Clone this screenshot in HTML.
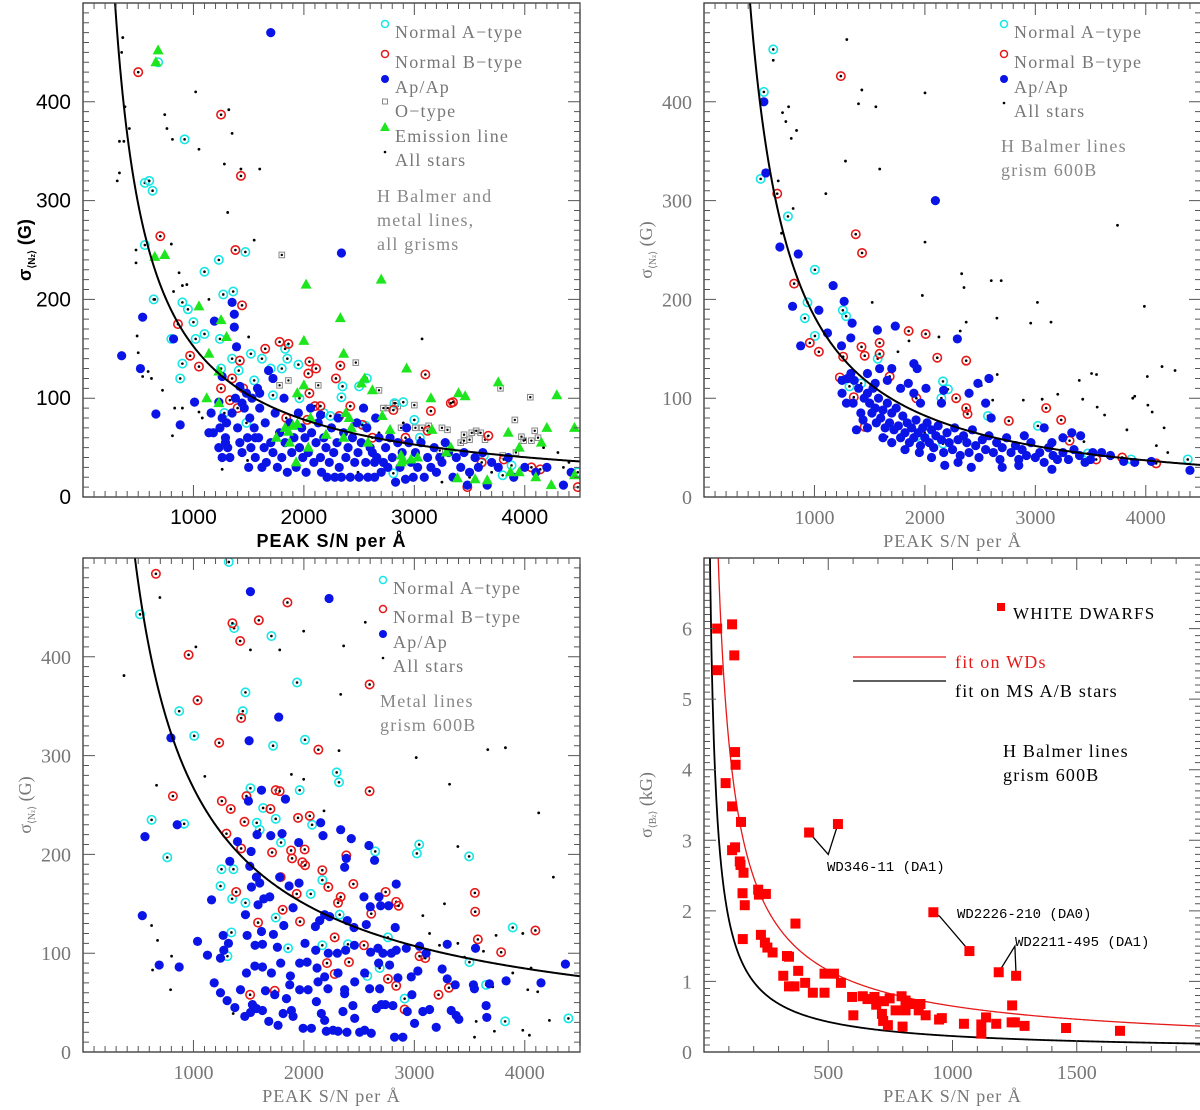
<!DOCTYPE html>
<html><head><meta charset="utf-8">
<style>
html,body{margin:0;padding:0;background:#fff;}
svg{display:block;font-family:"Liberation Serif","DejaVu Serif",serif;}
</style></head>
<body>
<svg id="fig" width="1200" height="1110" viewBox="0 0 1200 1110" xmlns="http://www.w3.org/2000/svg"></svg>
<script>
// ---------- Top-left panel data (S/N, sigma G) ----------
const tlCyan=[[680,440],[560,318],[600,320],[630,310],[560,255],[640,200],[920,362],[1100,228],[1230,240],[1470,248],[900,197],[950,190],[1000,177],[1020,160],[1100,165],[1240,160],[1270,205],[1360,208],[800,160],[900,135],[880,120],[1250,130],[1350,140],[1410,128],[1520,145],[1550,118],[1620,140],[1700,130],[1800,130],[1830,150],[1850,140],[1950,134],[1720,103],[1960,100],[2350,112],[2340,101],[2500,112],[2570,120],[2560,72],[1480,75],[2820,95],[2900,96],[3000,78],[2180,85],[2240,82],[3630,42],[3880,32],[3800,22],[2810,24],[4480,25],[3050,60],[1280,85]];
const tlRed=[[500,430],[1250,387],[1430,325],[1380,250],[700,264],[1440,194],[860,175],[970,143],[1050,132],[1420,138],[1650,150],[1780,157],[1860,155],[2050,137],[2040,125],[2110,130],[2330,133],[2290,120],[1250,110],[1350,120],[1330,98],[1400,90],[1450,110],[2050,105],[2100,92],[2150,92],[2420,92],[2320,82],[2530,73],[2620,60],[2810,88],[2920,60],[3100,124],[3330,95],[3350,96],[3150,87],[3120,67],[3670,62],[3480,10],[3610,35],[3810,38],[4060,30],[4140,28],[4480,10],[1840,80],[2030,78]];
const tlBlue=[[1700,470],[2340,247],[350,143],[540,182],[520,130],[660,84],[880,73],[820,160],[1010,96],[1190,178],[1350,197],[1370,185],[1370,172],[1390,152],[1260,122],[1160,85],[1140,65],
[1230,96],[1260,80],[1290,60],[1310,50],[1330,40],[1300,75],[1350,85],[1380,100],[1400,70],[1420,55],[1440,45],[1460,90],[1480,105],[1490,60],[1500,30],[1510,80],[1520,50],[1420,112],[1440,95],[1290,55],[1230,50],[1240,70],[1180,65],[1260,40],
[1530,100],[1550,70],[1560,40],[1580,110],[1590,60],[1600,90],[1620,30],[1640,50],[1650,75],[1660,35],[1680,128],[1700,55],[1720,45],[1740,85],[1760,30],[1780,65],[1800,40],[1820,100],[1830,55],[1850,25],[1870,75],[1890,45],[1910,60],[1930,30],[1950,85],[1960,50],[1980,70],[1990,40],[1720,120],[1600,105],[1560,60],
[2010,60],[2020,25],[2040,45],[2060,90],[2070,65],[2090,35],[2110,55],[2130,75],[2150,40],[2160,25],[2180,60],[2200,50],[2210,20],[2230,35],[2250,70],[2270,45],[2280,20],[2300,55],[2320,30],[2340,20],[2360,65],[2380,40],[2400,50],[2420,20],[2440,60],[2460,35],[2480,75],[2490,45],[2310,80],[2150,83],
[2500,20],[2520,55],[2540,90],[2560,35],[2570,70],[2580,20],[2600,50],[2620,45],[2640,20],[2650,80],[2660,40],[2680,60],[2700,25],[2720,35],[2740,50],[2760,30],[2780,60],[2800,40],[2830,15],[2850,55],[2870,30],[2890,45],[2920,18],[2950,55],[2970,35],[2990,20],[2640,35],[2930,70],
[3010,45],[3030,30],[3060,55],[3090,20],[3120,40],[3150,30],[3180,50],[3200,25],[3230,40],[3250,35],[3280,55],[3310,45],[3350,20],[3380,40],[3420,30],[3450,45],[3480,12],[3500,25],
[3550,40],[3580,30],[3620,45],[3660,12],[3700,35],[3760,30],[3850,40],[3900,20],[4000,30],[4100,25],[4200,30],[4350,12],[4420,25]];
const tlOtype=[[1800,245],[1780,113],[1860,118],[2130,113],[2470,136],[2680,108],[2720,90],[2760,90],[2850,92],[2880,70],[3070,70],[3000,93],[3130,72],[3250,70],[3300,68],[3420,55],[3450,63],[3520,65],[3560,67],[3600,65],[3640,58],[3780,110],[3910,78],[3970,61],[3990,57],[4060,57],[4120,60],[4090,67],[4050,101],[3920,45],[3450,57],[3230,47],[2830,95],[3010,70],[3500,58],[3800,42]];
const tlEmission=[[660,440],[680,452],[650,243],[740,245],[1050,193],[1250,179],[1300,162],[1140,145],[1230,127],[1120,100],[1230,95],[2020,215],[2700,220],[2330,181],[2000,158],[2360,145],[2550,120],[2620,108],[2930,130],[1940,105],[2000,113],[1750,60],[1830,70],[1860,66],[1900,72],[1940,74],[1870,55],[2040,50],[2060,80],[2200,63],[2360,60],[2380,85],[2410,80],[2430,70],[2520,115],[2580,55],[2710,82],[2780,68],[2880,42],[2900,37],[2970,38],[3030,40],[3150,100],[3160,68],[3290,45],[3330,50],[3400,105],[3460,102],[3390,19],[3550,18],[3660,17],[3760,116],[3850,65],[3870,25],[3950,50],[3950,25],[4100,20],[4200,70],[4150,55],[4290,103],[4240,12],[4450,70],[4450,22],[1930,35],[2880,35]];
const tlAll=[[330,360],[330,328],[350,450],[360,465],[370,360],[380,395],[420,373],[310,320],[480,237],[480,250],[490,163],[500,146],[540,122],[590,127],[620,120],[650,200],[720,108],[740,387],[760,373],[800,256],[810,362],[820,208],[830,90],[870,227],[900,214],[940,215],[1020,410],[1050,352],[1280,337],[1320,392],[1350,368],[1310,288],[1430,332],[1550,260],[1600,332],[1500,162],[1140,200],[3070,160],[2680,65],[2900,75],[4000,58],[4170,50],[4300,45],[4350,30],[4400,35],[3700,25],[3500,20],[3250,15],[2960,18],[2490,25],[1490,37],[1260,28],[810,62],[1080,80],[1050,86],[900,90]];
const tlFit=[115600,0.96];

// ---------- Top-right panel data ----------
const trCyan=[[627,453],[542,410],[513,322],[760,284],[1004,230],[937,197],[913,181],[1004,163],[1257,189],[1287,183],[1317,112],[1423,115],[1573,140],[2164,117],[2209,109],[2164,54],[1923,61],[1998,65],[2571,82],[3023,72],[3475,44],[3867,38],[4380,38],[2149,100]];
const trRed=[[1239,426],[663,307],[1374,266],[1431,247],[816,216],[958,156],[1040,147],[1260,142],[1426,152],[1590,156],[1590,145],[1853,168],[2007,165],[1455,143],[2112,141],[2374,138],[1230,121],[1356,101],[1455,71],[1681,122],[2374,90],[2386,84],[2760,77],[3098,90],[3234,78],[3310,57],[3551,38],[3786,40],[4094,34],[2283,100],[1923,100]];
const trBlue=[[542,400],[560,328],[687,253],[853,246],[1169,214],[802,193],[1040,189],[1269,198],[1341,176],[1118,166],[875,153],[1245,153],[1329,161],[1570,169],[1732,173],[2095,300],[2294,160],
[1250,118],[1300,120],[1330,125],[1360,118],[1400,110],[1450,100],[1480,105],[1500,95],[1520,85],[1530,110],[1550,90],[1560,75],[1580,100],[1600,80],[1620,88],[1640,70],[1660,95],[1680,75],[1700,85],[1720,68],[1740,90],[1760,72],[1780,60],[1800,82],[1820,65],[1840,75],[1860,55],[1880,70],[1900,60],[1920,78],[1940,65],[1960,52],[1980,70],[2000,60],[2020,75],[2040,55],[2060,68],[2080,50],[2100,62],[2120,72],[2150,58],[2170,45],[2200,65],[2220,55],[2250,48],[2270,70],[2300,58],[2320,42],[2350,62],[2380,55],[2400,45],[2430,68],[2460,52],[2490,40],[2520,58],[2550,48],[2580,62],[2620,45],[2650,55],[2680,38],[2700,50],[2740,60],[2780,45],[2820,52],[2850,38],[2880,48],[2920,42],[2960,55],[3000,40],[3040,45],[3080,35],[3120,50],[3160,42],[3200,38],[3250,45],[3300,38],[3350,48],[3400,42],[3450,35],[3500,38],[3600,45],[3680,42],[3800,36],[3900,35],[4050,36],[4400,27],
[1350,95],[1420,85],[1480,125],[1590,130],[1660,118],[1700,130],[1780,110],[1850,115],[1900,105],[1960,95],[2010,110],[2150,95],[2400,105],[2480,115],[2550,95],[2600,80],[1550,115],[1620,60],[1700,55],[1820,48],[1950,45],[2060,40],[2180,32],[2300,35],[2420,30],[2700,30],[2850,32],[3150,28],[1440,78],[1480,70],[1380,68],[1290,95],[1250,105],[1900,135],[1930,130],[2170,108],[2580,120],[3410,62],[3330,65],[3250,60],[3150,55],[3080,70],[2900,62],[3520,45]];
const trAll=[[1293,463],[627,442],[1429,412],[2001,409],[1399,398],[1556,395],[711,389],[766,395],[741,380],[838,371],[790,363],[1281,340],[1591,332],[672,320],[1103,307],[807,292],[702,267],[2001,258],[3744,275],[2333,226],[2601,219],[2691,219],[2354,212],[1977,204],[1523,197],[3019,197],[3987,193],[2652,181],[3142,177],[2958,176],[2374,177],[2320,168],[2127,162],[1856,158],[1756,147],[4147,132],[4265,128],[3509,125],[3554,124],[3398,118],[4014,122],[2655,124],[3203,104],[3429,99],[3882,100],[3900,102],[3560,91],[3627,83],[3829,68],[4166,70],[4019,93],[4058,86],[3440,56],[4096,52],[4199,45],[1657,61],[2511,113],[2614,98],[2891,98],[3062,99]];
const trFit=[515000,1.15];

// ---------- Bottom-left panel data ----------
const blCyan=[[1320,496],[516,443],[1368,429],[1706,421],[1938,374],[1471,364],[871,345],[1447,345],[1007,320],[2010,316],[1721,310],[2297,283],[2318,273],[1516,267],[1962,265],[621,235],[916,231],[1631,247],[1745,236],[1573,232],[1600,225],[2074,230],[1793,212],[2646,203],[3044,210],[3023,201],[3496,198],[763,197],[1254,185],[1362,185],[1245,168],[1350,155],[1471,151],[2167,174],[2062,160],[1745,136],[2324,139],[1344,121],[1857,105],[2167,108],[2399,109],[2761,116],[3891,126],[1308,97],[2686,85],[2574,77],[3499,91],[3650,68],[2912,54],[3822,31],[4395,34]];
const blRed=[[660,484],[1851,455],[1592,437],[1353,434],[1423,416],[956,402],[2595,372],[1037,356],[1432,338],[1233,313],[2131,306],[2595,264],[814,259],[1745,265],[1781,264],[1480,259],[1257,254],[1338,246],[1697,246],[1947,237],[2053,239],[1462,233],[1299,221],[1432,206],[1884,204],[2007,205],[1712,202],[1893,196],[1986,192],[2011,189],[2167,184],[2384,199],[1790,177],[2448,170],[2221,167],[1387,162],[1935,160],[2333,157],[2740,162],[2836,152],[2857,148],[2309,151],[3548,161],[3551,142],[1808,144],[1585,131],[1965,132],[2610,140],[2279,116],[3575,114],[4096,123],[3786,101],[2544,108],[2209,90],[2408,91],[2279,79],[3047,97],[3099,95],[2761,74],[2836,67],[3313,65],[3219,58],[2912,43],[1513,58],[1736,62]];
const blBlue=[[1516,466],[2228,459],[1772,339],[1504,315],[796,318],[853,230],[561,218],[1833,256],[1616,265],[1498,254],[2152,232],[2333,225],[2173,219],[2429,216],[2589,209],[2640,194],[2384,196],[2369,187],[1953,212],[1802,221],[1700,219],[1576,220],[1399,213],[1522,203],[1329,193],[1510,188],[1570,177],[1781,177],[1866,168],[1956,171],[1525,167],[1600,171],[1164,154],[1637,155],[1691,157],[1585,149],[1902,146],[1471,139],[537,138],[2188,139],[2233,137],[2143,133],[2393,133],[2454,126],[2544,157],[2601,147],[2680,157],[2695,148],[2767,148],[2836,170],[2565,129],[2827,126],[2104,127],[1818,128],[1724,119],[1616,122],[1486,118],[1269,118],[1037,112],[1317,110],[1558,108],[1625,109],[1760,106],[2010,110],[2107,103],[2221,100],[2303,100],[2378,103],[2457,108],[2604,101],[2671,105],[2716,100],[2791,100],[2836,103],[2927,105],[3047,107],[3107,100],[3298,109],[3554,105],[4368,89],[690,88],[871,86],[1127,98],[1275,103],[1245,95],[1480,80],[1556,87],[1625,86],[1706,80],[1790,90],[1878,77],[1962,90],[2029,91],[2119,85],[2188,76],[2309,80],[2460,71],[2550,80],[2595,64],[2677,90],[2776,88],[2851,75],[2972,76],[3032,82],[3252,84],[3298,74],[3370,68],[3535,68],[3680,69],[3831,72],[4147,70],[1188,70],[1245,60],[1305,52],[1426,63],[1534,48],[1465,36],[1570,44],[1652,62],[1682,31],[1736,58],[1766,27],[1842,54],[1887,42],[1962,63],[1993,24],[2068,24],[2038,63],[2113,51],[2158,39],[2203,21],[2264,22],[2309,21],[2354,41],[2390,20],[2444,47],[2505,20],[2550,22],[2610,19],[2656,44],[2686,64],[2737,48],[2806,47],[2821,15],[2896,15],[2936,41],[2978,58],[3002,29],[3077,41],[3138,43],[3198,25],[3334,42],[3379,37],[3403,33],[3650,47],[3656,35],[3544,64],[1375,45],[1516,40],[1625,42],[1812,39],[1902,36],[2188,32],[2460,34],[2701,48],[1872,68],[2128,71],[2218,64],[2369,63],[2369,59]];
const blAll=[[371,381],[696,460],[1022,410],[1516,407],[1781,407],[1998,426],[2360,411],[2556,435],[2333,362],[2318,305],[3017,298],[3665,306],[3825,308],[3319,271],[4126,242],[4259,177],[666,270],[1103,279],[1887,281],[1998,276],[2182,244],[3394,208],[3273,150],[3077,138],[621,128],[675,113],[793,63],[802,97],[630,83],[1360,39],[3560,31],[3725,21],[3982,22],[4223,32],[4042,17],[3545,15],[4027,63],[4117,61],[3740,118],[3982,120],[4057,85],[3891,80],[3710,66],[3138,120],[3228,108],[3394,110],[3626,102],[3454,96]];
const blFit=[82600,0.83];

// ---------- Bottom-right panel data (S/N, sigma kG) ----------
const wdSN=[53,113,122,54,125,127,87,113,149,113,125,144,147,159,155,164,156,218,221,249,229,245,255,276,334,342,319,342,364,379,368,407,438,485,485,523,551,596,601,639,658,686,693,716,721,740,724,747,771,795,811,799,811,848,871,864,892,946,957,1046,1116,1116,1135,1176,1238,1251,1240,1290,1457,1674,423,539,923,1068,1186,1256];
const wdSigma=[6.0,6.06,5.62,5.41,4.25,4.07,3.81,3.48,3.26,2.86,2.9,2.7,2.65,2.54,2.25,2.08,1.6,2.3,2.23,2.24,1.66,1.55,1.48,1.41,1.36,1.35,1.08,0.93,0.93,1.15,1.82,0.98,0.84,0.84,1.11,1.11,0.98,0.78,0.52,0.79,0.75,0.78,0.67,0.54,0.44,0.38,0.72,0.76,0.59,0.79,0.73,0.36,0.59,0.68,0.68,0.59,0.52,0.46,0.48,0.40,0.39,0.26,0.49,0.40,0.42,0.42,0.66,0.37,0.34,0.30,3.11,3.23,1.98,1.43,1.13,1.08];
const wdFitRed=[201,0.83];
const msFitBlack=[130,0.92];
const wdLabels=["WD346-11 (DA1)","WD2226-210 (DA0)","WD2211-495 (DA1)"];

const NS="http://www.w3.org/2000/svg";
const svg=document.getElementById('fig');
function mk(tag,attrs,parent){const e=document.createElementNS(NS,tag);for(const k in attrs)e.setAttribute(k,attrs[k]);(parent||svg).appendChild(e);return e;}

function makeScales(p){
  return {
    sx:v=>p.x0+(v/p.xmax)*(p.x1-p.x0),
    sy:v=>p.y1-(v/p.ymax)*(p.y1-p.y0)
  };
}

function drawFrame(p,name,g){
  const {sx,sy}=makeScales(p);
  const fr=mk('rect',{x:p.x0,y:p.y0,width:p.x1-p.x0,height:p.y1-p.y0,fill:'none',stroke:'#333','stroke-width':1.3},g);
  
  
  let d='';
  const nx=Math.round(p.xmax/p.xminor);
  for(let i=1;i<nx+1;i++){
    const v=i*p.xminor;const x=sx(v);if(x>p.x1)break;
    const major=Math.abs(v/p.xmajor-Math.round(v/p.xmajor))<1e-6;
    const L=major?12:6;
    d+=`M${x},${p.y1}v${-L}M${x},${p.y0}v${L}`;
  }
  const ny=Math.round(p.ymax/p.yminor);
  for(let i=1;i<ny;i++){
    const v=i*p.yminor;const y=sy(v);
    const major=Math.abs(v/p.ymajor-Math.round(v/p.ymajor))<1e-6;
    const L=major?12:6;
    d+=`M${p.x0},${y}h${L}M${p.x1},${y}h${-L}`;
  }
  const t=mk('path',{d:d,stroke:'#555','stroke-width':1,fill:'none'},g);
  
  
  p.xlabels.forEach(v=>{
    const tx=mk('text',{x:sx(v),y:p.y1+27,'text-anchor':'middle','font-size':p.tickFont,fill:p.labelColor,'font-family':p.tickFamily},g);
    tx.textContent=String(v);
    
    
  });
  p.ylabels.forEach(v=>{
    const ty=mk('text',{x:p.x0-12,y:sy(v)+7,'text-anchor':'end','font-size':p.tickFont,fill:p.labelColor,'font-family':p.tickFamily},g);
    ty.textContent=String(v);
    
    
  });
  const xt=mk('text',{x:(p.x0+p.x1)/2,y:p.y1+50,'text-anchor':'middle','font-size':p.titleFont,fill:p.labelColor,'font-family':p.tickFamily,'font-weight':p.titleWeight,'letter-spacing':'1'},g);
  xt.textContent='PEAK S/N per Å';
  
  
  const cy=(p.y0+p.y1)/2, cx=p.x0-52;
  const yt=mk('text',{x:cx,y:cy,'text-anchor':'middle','font-size':p.titleFont,fill:p.labelColor,'font-family':p.tickFamily,'font-weight':p.titleWeight,transform:`rotate(-90 ${cx} ${cy})`},g);
  yt.innerHTML='σ<tspan font-size="10" dy="4">⟨'+p.ysub+'⟩</tspan><tspan dy="-4"> ('+p.yunit+')</tspan>';
  
  
}

function drawFit(p,fit,color,name,g,w){
  const {sx,sy}=makeScales(p);
  let d='';
  for(let i=0;i<=400;i++){
    const x=p.xmax*0.005+i*(p.xmax*0.995/400);
    const y=fit[0]*Math.pow(x,-fit[1]);
    d+=(i?'L':'M')+sx(x).toFixed(2)+','+sy(y).toFixed(2);
  }
  const c=mk('path',{d:d,stroke:color,'stroke-width':w||2,fill:'none','clip-path':'url(#clip-'+name+')'},g);
  
  
}

function clip(p,name){
  const defs=mk('defs',{});
  const cp=mk('clipPath',{id:'clip-'+name},defs);
  mk('rect',{x:p.x0,y:p.y0,width:p.x1-p.x0,height:p.y1-p.y0},cp);
}

function dotSeries(p,data,g,name){
  const {sx,sy}=makeScales(p);
  data.forEach(d=>{
    const c=mk('circle',{cx:sx(d[0]),cy:sy(d[1]),r:1.4,fill:'#000'},g);
    
    
  });
}
function ringSeries(p,data,color,g,name){
  const {sx,sy}=makeScales(p);
  data.forEach(d=>{
    const c=mk('circle',{cx:sx(d[0]),cy:sy(d[1]),r:4.2,fill:'none',stroke:color,'stroke-width':1.6},g);
    
    
    const c2=mk('circle',{cx:sx(d[0]),cy:sy(d[1]),r:1.3,fill:'#000'},g);
    
    
  });
}
function blueSeries(p,data,g,name){
  const {sx,sy}=makeScales(p);
  data.forEach(d=>{
    const c=mk('circle',{cx:sx(d[0]),cy:sy(d[1]),r:4.6,fill:'#0a14e6'},g);
    
    
  });
}
function triSeries(p,data,g,name){
  const {sx,sy}=makeScales(p);
  data.forEach(d=>{
    const x=sx(d[0]),y=sy(d[1]);
    const t=mk('polygon',{points:`${x},${y-6} ${x-5.5},${y+4} ${x+5.5},${y+4}`,fill:'#1ee61e'},g);
    
    
  });
}
function sqSeries(p,data,g,name){
  const {sx,sy}=makeScales(p);
  data.forEach(d=>{
    const x=sx(d[0]),y=sy(d[1]);
    const s=mk('rect',{x:x-2.8,y:y-2.8,width:5.6,height:5.6,fill:'none',stroke:'#888','stroke-width':1},g);
    
    
    const c2=mk('circle',{cx:x,cy:y,r:1.2,fill:'#000'},g);
    
    
  });
}

function legendText(g,x,y,txt,color,name,size){
  const t=mk('text',{x:x,y:y,'font-size':size||18,fill:color,'letter-spacing':'1.2'},g);
  t.textContent=txt;
  
  
  return t;
}
function legendStars(g,lx,ly,entries,notes){
  entries.forEach((e,i)=>{
    const y=ly[i];
    if(e[0]==='cyan'||e[0]==='red'){
      const m=mk('circle',{cx:lx,cy:y-12,r:3.5,fill:'none',stroke:e[0]==='cyan'?'#19e6e6':'#e61919','stroke-width':1.5},g);
      
      
    }else if(e[0]==='blue'){
      const m=mk('circle',{cx:lx,cy:y-12,r:4,fill:'#0a14e6'},g);
      
      
    }else if(e[0]==='sq'){
      const m=mk('rect',{x:lx-2.5,y:y-16,width:5,height:5,fill:'none',stroke:'#888'},g);
      
      
    }else if(e[0]==='tri'){
      const m=mk('polygon',{points:`${lx},${y-18} ${lx-5},${y-9} ${lx+5},${y-9}`,fill:'#1ee61e'},g);
      
      
    }else{
      const m=mk('circle',{cx:lx,cy:y-12,r:1.3,fill:'#000'},g);
      
      
    }
    legendText(g,lx+10,y+2,e[1],'#777','legend-entry');
  });
  notes.forEach(n=>legendText(g,n[0],n[1],n[2],'#888','panel-note'));
}

const common={xmax:4500,ymax:500,xminor:100,xmajor:1000,yminor:10,ymajor:100,xlabels:[1000,2000,3000,4000],ylabels:[0,100,200,300,400],ysub:'N',yunit:'G'};
const pTL=Object.assign({},common,{x0:83,x1:580,y0:3,y1:497,labelColor:'#000',tickFamily:'"Liberation Sans",sans-serif',tickFont:21,titleFont:18,titleWeight:'bold',ysub:'N<tspan font-size="7">z</tspan>'});
const pTR=Object.assign({},common,{x0:704,x1:1201,y0:3,y1:497,labelColor:'#777',tickFamily:'"Liberation Serif",serif',tickFont:20,titleFont:18,titleWeight:'normal',ysub:'N<tspan font-size="7">z</tspan>'});
const pBL=Object.assign({},common,{x0:83,x1:580,y0:558,y1:1052,labelColor:'#777',tickFamily:'"Liberation Serif",serif',tickFont:20,titleFont:18,titleWeight:'normal',ysub:'N<tspan font-size="7">z</tspan>'});
const pBR={x0:704,x1:1201,y0:558,y1:1052,xmax:2000,ymax:7,xminor:100,xmajor:500,yminor:0.1,ymajor:1,xlabels:[500,1000,1500],ylabels:[0,1,2,3,4,5,6],labelColor:'#777',tickFamily:'"Liberation Serif",serif',tickFont:20,titleFont:18,titleWeight:'normal',ysub:'B<tspan font-size="7">z</tspan>',yunit:'kG'};

// Top-left
(function(){
  const g=mk('g',{});
  
  
  clip(pTL,'tl');
  const gc=mk('g',{'clip-path':'url(#clip-tl)'},g);
  dotSeries(pTL,tlAll,gc,'all-stars');
  sqSeries(pTL,tlOtype,gc,'o-type');
  ringSeries(pTL,tlCyan,'#19e6e6',gc,'normal-a-type');
  ringSeries(pTL,tlRed,'#e61919',gc,'normal-b-type');
  blueSeries(pTL,tlBlue,gc,'ap-stars');
  triSeries(pTL,tlEmission,gc,'emission-line');
  drawFit(pTL,tlFit,'#000','tl',g);
  drawFrame(pTL,'tl',g);
  legendStars(g,385,[36,66,91,115,140,164],[['cyan','Normal A−type'],['red','Normal B−type'],['blue','Ap/Ap'],['sq','O−type'],['tri','Emission line'],['dot','All stars']],
    [[377,202,'H Balmer and'],[377,226,'metal lines,'],[377,250,'all grisms']]);
})();
// Top-right
(function(){
  const g=mk('g',{});
  
  
  clip(pTR,'tr');
  const gc=mk('g',{'clip-path':'url(#clip-tr)'},g);
  dotSeries(pTR,trAll,gc,'all-stars');
  ringSeries(pTR,trCyan,'#19e6e6',gc,'normal-a-type');
  ringSeries(pTR,trRed,'#e61919',gc,'normal-b-type');
  blueSeries(pTR,trBlue,gc,'ap-stars');
  drawFit(pTR,trFit,'#000','tr',g);
  drawFrame(pTR,'tr',g);
  legendStars(g,1004,[36,66,91,115],[['cyan','Normal A−type'],['red','Normal B−type'],['blue','Ap/Ap'],['dot','All stars']],
    [[1001,152,'H Balmer lines'],[1001,176,'grism 600B']]);
})();
// Bottom-left
(function(){
  const g=mk('g',{});
  
  
  clip(pBL,'bl');
  const gc=mk('g',{'clip-path':'url(#clip-bl)'},g);
  dotSeries(pBL,blAll,gc,'all-stars');
  ringSeries(pBL,blCyan,'#19e6e6',gc,'normal-a-type');
  ringSeries(pBL,blRed,'#e61919',gc,'normal-b-type');
  blueSeries(pBL,blBlue,gc,'ap-stars');
  drawFit(pBL,blFit,'#000','bl',g);
  drawFrame(pBL,'bl',g);
  legendStars(g,383,[592,621,646,670],[['cyan','Normal A−type'],['red','Normal B−type'],['blue','Ap/Ap'],['dot','All stars']],
    [[380,707,'Metal lines'],[380,731,'grism 600B']]);
})();
// Bottom-right
(function(){
  const g=mk('g',{});
  
  
  clip(pBR,'br');
  const {sx,sy}=makeScales(pBR);
  drawFit(pBR,msFitBlack,'#000','br-ms',g,1.8);
  mk('clipPath',{id:'clip-br-ms'},svg.querySelector('defs')).appendChild(Object.assign(document.createElementNS(NS,'rect'),{}));
  const cpm=svg.querySelector('#clip-br-ms rect');cpm.setAttribute('x',pBR.x0);cpm.setAttribute('y',pBR.y0);cpm.setAttribute('width',pBR.x1-pBR.x0);cpm.setAttribute('height',pBR.y1-pBR.y0);
  drawFit(pBR,wdFitRed,'#e61919','br',g,1.3);
  // connector lines
  const conns=[[[423,3.11],[500,2.8],[539,3.23]],[[923,1.98],[949,1.92],[1068,1.43]],[[1186,1.13],[1251,1.5],[1256,1.08]]];
  conns.forEach(c=>{
    const l=mk('polyline',{points:c.map(q=>sx(q[0])+','+sy(q[1])).join(' '),fill:'none',stroke:'#000','stroke-width':1.3},g);
    
    
  });
  const gc=mk('g',{'clip-path':'url(#clip-br)'},g);
  wdSN.forEach((v,i)=>{
    const s=mk('rect',{x:sx(v)-5,y:sy(wdSigma[i])-5,width:10,height:10,fill:'#f00'},gc);
    
    
  });
  const lp=[[827,871],[957,918],[1015,946]];
  wdLabels.forEach((t,i)=>{
    const tx=mk('text',{x:lp[i][0],y:lp[i][1],'font-size':14,'font-family':'"Liberation Mono",monospace',fill:'#000'},g);
    tx.textContent=t;
    
    
  });
  drawFrame(pBR,'br',g);
  const m=mk('rect',{x:997,y:603,width:8,height:8,fill:'#f00'},g);
  
  
  legendText(g,1013,619,'WHITE DWARFS','#000','legend-entry',17);
  const l1=mk('line',{x1:853,y1:657,x2:946,y2:657,stroke:'#e61919','stroke-width':1.3},g);
  
  
  legendText(g,955,668,'fit on WDs','#e61919','legend-entry');
  const l2=mk('line',{x1:853,y1:681,x2:946,y2:681,stroke:'#000','stroke-width':1.3},g);
  
  
  legendText(g,955,697,'fit on MS A/B stars','#000','legend-entry');
  legendText(g,1003,757,'H Balmer lines','#000','panel-note');
  legendText(g,1003,781,'grism 600B','#000','panel-note');
})();
</script>
</body></html>
